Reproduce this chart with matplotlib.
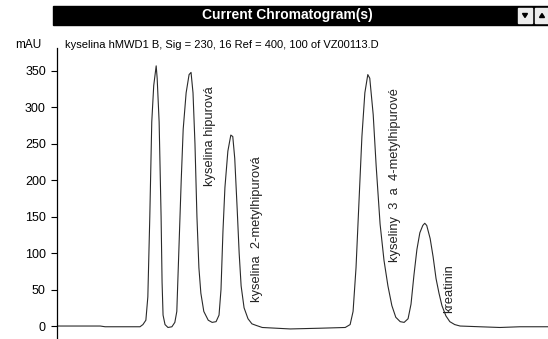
import matplotlib
matplotlib.use("Agg")
import matplotlib.pyplot as plt
from matplotlib.patches import Rectangle, Polygon

plt.rcParams["font.family"] = ["Liberation Sans", "DejaVu Sans"]

# retention time (min) and signal (mAU)
time_min = [0.00, 0.88, 0.98, 1.69, 1.75, 1.81, 1.85, 1.89, 1.93, 1.97, 2.02, 2.04,
            2.08, 2.12, 2.14, 2.16, 2.20, 2.26, 2.34, 2.40, 2.44, 2.48, 2.53, 2.57,
            2.63, 2.69, 2.73, 2.77, 2.81, 2.85, 2.89, 2.93, 2.99, 3.08, 3.16, 3.24,
            3.30, 3.34, 3.38, 3.42, 3.48, 3.54, 3.58, 3.62, 3.67, 3.71, 3.75, 3.81,
            3.89, 3.97, 4.05, 4.18, 4.75, 5.36, 5.87, 5.97, 6.03, 6.09, 6.15, 6.21,
            6.27, 6.33, 6.37, 6.44, 6.50, 6.58, 6.66, 6.74, 6.82, 6.90, 6.99, 7.07,
            7.15, 7.21, 7.27, 7.33, 7.39, 7.45, 7.49, 7.53, 7.60, 7.66, 7.72, 7.78,
            7.84, 7.92, 8.00, 8.10, 8.21, 8.61, 9.02, 9.43, 10.00]
signal_mau = [0, 0, -1, -1, 2, 8, 40, 150, 280, 330, 357, 340,
              280, 150, 60, 15, 2, -2, -1, 5, 20, 100, 200, 270,
              320, 345, 348, 320, 250, 150, 80, 45, 20, 8, 5, 6,
              15, 50, 130, 190, 240, 262, 260, 230, 160, 100, 55, 25,
              10, 3, 1, -2, -4, -3, -2, 2, 20, 80, 170, 260,
              320, 345, 340, 290, 220, 140, 90, 55, 28, 12, 6, 5,
              10, 30, 70, 105, 128, 138, 141, 138, 120, 95, 65, 45,
              28, 14, 6, 2, 0, -1, -2, -1, -1]

y_ticks = [0, 50, 100, 150, 200, 250, 300, 350]

peak_names = ["kyselina hipurová", "kyselina  2-metylhipurová",
              "kyseliny  3  a  4-metylhipurové", "kreatinin"]
label_time = [3.12, 4.07, 6.88, 7.98]
label_mau = [192, 33, 88, 18]

fig = plt.figure(figsize=(5.48, 3.39), dpi=100)
ax = fig.add_axes([57 / 548, 0, 491 / 548, 291 / 339])

ax.plot(time_min, signal_mau, color="#2a2a2a", linewidth=0.8)
for name, t, y in zip(peak_names, label_time, label_mau):
    ax.text(t, y, name, rotation=90, ha="center", va="bottom",
            fontsize=9.3, color="#222222")

ax.set_xlim(0, 10)
ax.set_ylim(-17.8, 381.5)
ax.set_yticks(y_ticks)
ax.set_xticks([])
for side in ["top", "right", "bottom"]:
    ax.spines[side].set_visible(False)
ax.spines["left"].set_linewidth(0.9)
ax.tick_params(axis="y", direction="out", length=4, width=0.8, labelsize=9, pad=4)

# header bar
fig.patches.append(Rectangle((53 / 548, 314 / 339), 495 / 548, 19 / 339,
                             transform=fig.transFigure, color="black"))
fig.text(287 / 548, 323.5 / 339, "Current Chromatogram(s)", color="white",
         fontsize=10, fontweight="bold", ha="center", va="center")
for x0, up in [(518, False), (535, True)]:
    fig.patches.append(Rectangle((x0 / 548, 316 / 339), 14 / 548, 15 / 339,
                                 transform=fig.transFigure, color="#ececec"))
    cx, cy = (x0 + 7) / 548, 323.5 / 339
    dx, dy = 2.5 / 548, 2 / 339
    pts = [(cx - dx, cy - dy), (cx + dx, cy - dy), (cx, cy + dy)] if up else \
          [(cx - dx, cy + dy), (cx + dx, cy + dy), (cx, cy - dy)]
    fig.patches.append(Polygon(pts, closed=True, transform=fig.transFigure, color="black"))

fig.text(15 / 548, 294 / 339, "mAU", fontsize=8.5, ha="left", va="center")
fig.text(65 / 548, 294 / 339, "kyselina hMWD1 B, Sig = 230, 16 Ref = 400, 100 of VZ00113.D",
         fontsize=8, ha="left", va="center")

fig.savefig("out.png", dpi=100, facecolor="white")
